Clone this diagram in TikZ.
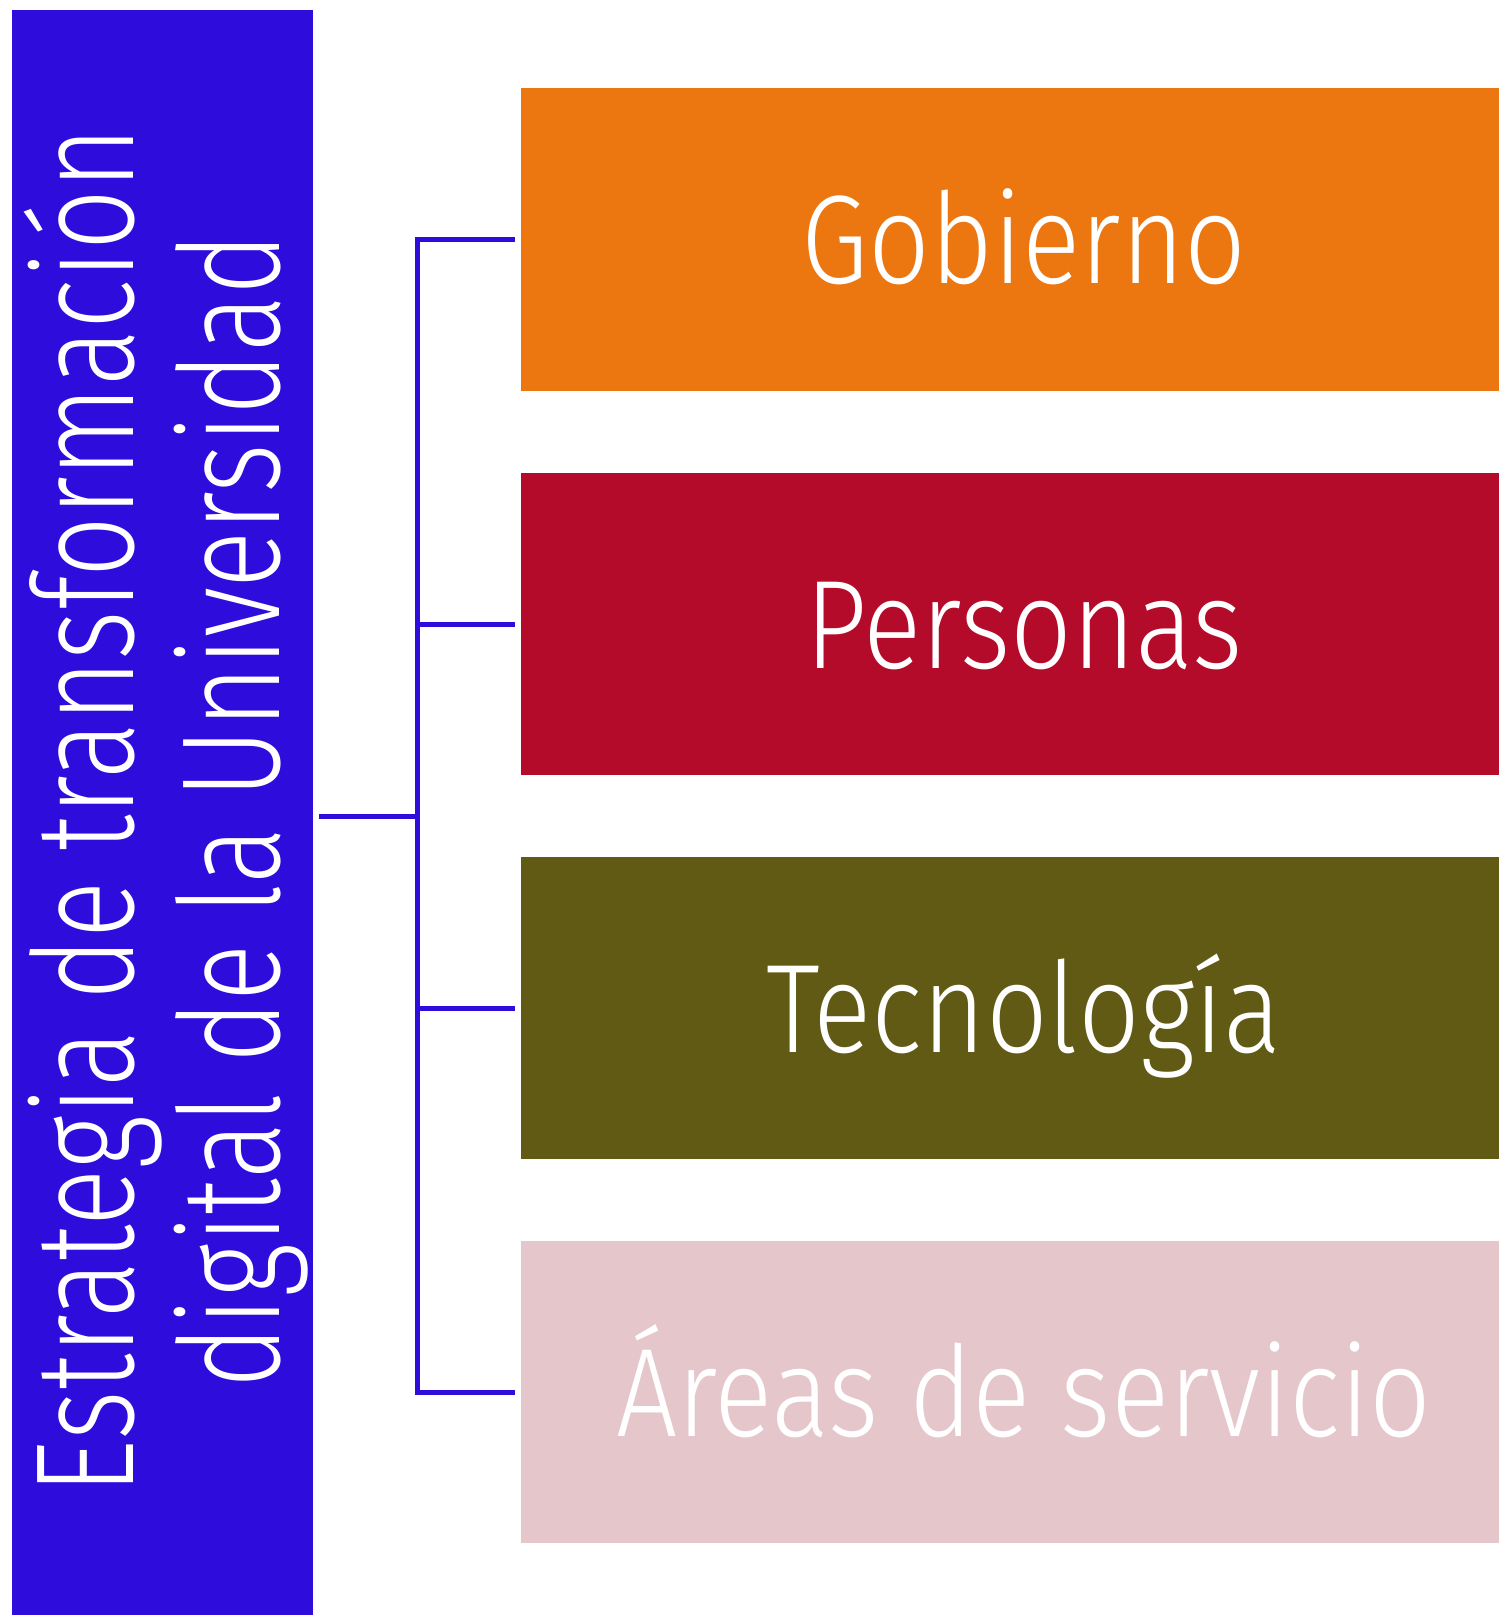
\documentclass[tikz,border=0pt]{standalone}
\usepackage{fontspec}
\setmainfont{Fira Sans Light}
\newfontfamily\fuentePilar{Fira Sans Light}[FakeStretch=0.86]
\newfontfamily\fuenteEje{Fira Sans Light}[FakeStretch=0.76]
\definecolor{azulEstrategia}{RGB}{46,12,220}
\definecolor{naranjaGobierno}{RGB}{236,119,17}
\definecolor{rojoPersonas}{RGB}{179,11,41}
\definecolor{olivaTecnologia}{RGB}{97,90,21}
\definecolor{rosaAreas}{RGB}{229,198,202}

\begin{document}
\begin{tikzpicture}[x=0.5pt, y=-0.5pt,
    pilar/.style={rectangle, minimum width=489pt, minimum height=151pt, inner sep=0pt,
      text=white, font=\fuentePilar\fontsize{63}{70}\selectfont, text height=44.5pt, text depth=0pt,
      execute at begin node=\hspace*{14pt}},
    rama/.style={draw=azulEstrategia, line width=2.5pt}]
  \useasboundingbox (0,0) rectangle (1499,1615);
  % eje principal
  \node[rectangle, fill=azulEstrategia, minimum width=150.5pt, minimum height=802.25pt, inner sep=0pt] (estrategia) at (162.5,812.75) {};
  \node[rotate=90, text=white, align=center, font=\fuenteEje\fontsize{70}{73}\selectfont] (estrategiaTexto) at (166,811) {Estrategia de transformación\\digital de la Universidad};
  % pilares
  \node[pilar, fill=naranjaGobierno] (gobierno) at (1010,239.5) {Gobierno};
  \node[pilar, fill=rojoPersonas] (personas) at (1010,624) {Personas};
  \node[pilar, fill=olivaTecnologia] (tecnologia) at (1010,1008) {Tecnología};
  \node[pilar, fill=rosaAreas] (areas) at (1010,1392) {Áreas de servicio};
  % conectores
  \coordinate (bifurca) at (417,816);
  \draw[rama] ([xshift=3pt]estrategia.east |- bifurca) -- (bifurca);
  \draw[rama] ([xshift=-3pt]gobierno.west) -| (bifurca) |- ([xshift=-3pt]areas.west);
  \foreach \n in {personas,tecnologia}
    \draw[rama] (bifurca |- \n.west) -- ([xshift=-3pt]\n.west);
\end{tikzpicture}
\end{document}
